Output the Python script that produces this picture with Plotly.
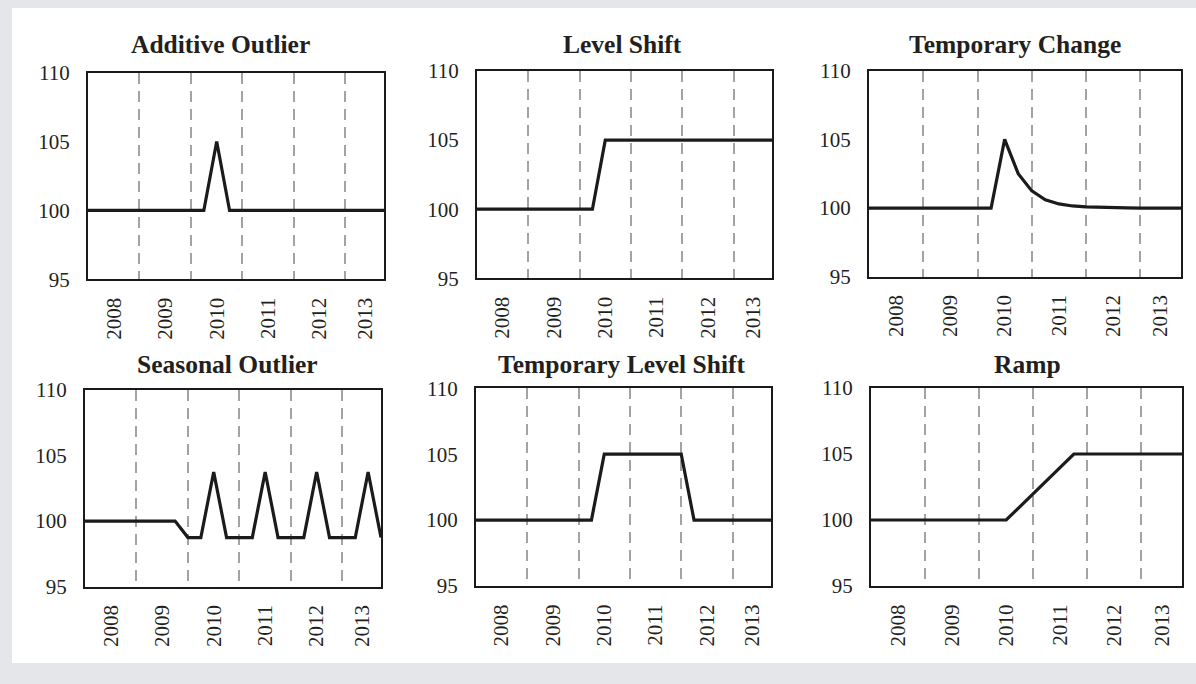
import plotly.graph_objects as go

# ---------------- data ----------------
quarters = ["2008Q1", "2008Q2", "2008Q3", "2008Q4",
            "2009Q1", "2009Q2", "2009Q3", "2009Q4",
            "2010Q1", "2010Q2", "2010Q3", "2010Q4",
            "2011Q1", "2011Q2", "2011Q3", "2011Q4",
            "2012Q1", "2012Q2", "2012Q3", "2012Q4",
            "2013Q1", "2013Q2", "2013Q3", "2013Q4"]
years = ["2008", "2009", "2010", "2011", "2012", "2013"]

titles = ["Additive Outlier", "Level Shift", "Temporary Change",
          "Seasonal Outlier", "Temporary Level Shift", "Ramp"]

additive_outlier = [100, 100, 100, 100, 100, 100, 100, 100, 100, 100, 105, 100,
                    100, 100, 100, 100, 100, 100, 100, 100, 100, 100, 100, 100]
level_shift = [100, 100, 100, 100, 100, 100, 100, 100, 100, 100, 105, 105,
               105, 105, 105, 105, 105, 105, 105, 105, 105, 105, 105, 105]
temporary_change = [100, 100, 100, 100, 100, 100, 100, 100, 100, 100, 105, 102.5,
                    101.25, 100.6, 100.3, 100.15, 100.08, 100.04, 100.02, 100.01, 100.0, 100.0, 100.0, 100.0]
seasonal_outlier = [100, 100, 100, 100, 100, 100, 100, 100, 98.75, 98.75, 103.75, 98.75,
                    98.75, 98.75, 103.75, 98.75, 98.75, 98.75, 103.75, 98.75, 98.75, 98.75, 103.75, 98.75]
temporary_level_shift = [100, 100, 100, 100, 100, 100, 100, 100, 100, 100, 105, 105,
                         105, 105, 105, 105, 105, 100, 100, 100, 100, 100, 100, 100]
ramp = [100, 100, 100, 100, 100, 100, 100, 100, 100, 100, 100, 101,
        102, 103, 104, 105, 105, 105, 105, 105, 105, 105, 105, 105]

series = [additive_outlier, level_shift, temporary_change,
          seasonal_outlier, temporary_level_shift, ramp]

y_ticks = [95, 100, 105, 110]

# ---------------- layout geometry (pixels) ----------------
W, H = 1196, 684
# (left, right, top, bottom) of each plot area in pixels
boxes = [(88, 384, 72.7, 279.3), (477, 772, 71, 278.3), (869, 1181, 70.7, 276.7),
         (85, 381, 390, 586.7), (476, 771, 388.3, 586), (871, 1182, 388, 586)]
title_centers = [(221, 45), (622, 44), (1015, 44), (227.5, 365), (621.5, 365), (1027, 365)]

FONT = "Liberation Serif"
TXT = "#231f20"

idx = list(range(len(quarters)))
n = len(quarters)
year_start = [quarters.index(y + "Q1") for y in years]
year_centers = [(s + min(s + 4, n - 1)) / 2 for s in year_start]
year_bounds = year_start[1:]

fig = go.Figure()
layout = dict(
    width=W, height=H, margin=dict(l=0, r=0, t=0, b=0, pad=0), autosize=False,
    paper_bgcolor="#e4e6e9", plot_bgcolor="white", showlegend=False,
    font=dict(family=FONT, color=TXT, size=21),
    shapes=[dict(type="rect", xref="paper", yref="paper",
                 x0=12 / W, x1=1.0, y0=1 - 663 / H, y1=1 - 8 / H,
                 fillcolor="white", line=dict(width=0), layer="below")],
    annotations=[],
)

for i, (vals, ttl, box, tc) in enumerate(zip(series, titles, boxes, title_centers)):
    k = "" if i == 0 else str(i + 1)
    fig.add_trace(go.Scatter(x=idx, y=vals, mode="lines",
                             line=dict(color="#1c1a1a", width=3.2),
                             xaxis="x" + k, yaxis="y" + k, hoverinfo="skip"))
    l, r, t, b = box
    layout["xaxis" + k] = dict(
        domain=[l / W, r / W], anchor="y" + k, range=[0, n - 1], automargin=False,
        tickmode="array", tickvals=year_centers, ticktext=years, tickangle=-90,
        ticks="outside", ticklen=8, tickcolor="rgba(0,0,0,0)",
        tickfont=dict(family=FONT, size=21, color=TXT),
        showgrid=False, zeroline=False,
        showline=True, linecolor="#1a1a1a", linewidth=2, mirror=True,
        minor=dict(tickmode="array", tickvals=year_bounds, showgrid=True,
                   gridcolor="#a3a3a3", gridwidth=1.6, griddash="11px,7px", ticks=""),
    )
    layout["yaxis" + k] = dict(
        domain=[1 - b / H, 1 - t / H], anchor="x" + k, range=[95, 110], automargin=False,
        tickmode="array", tickvals=y_ticks,
        ticks="outside", ticklen=12, tickcolor="rgba(0,0,0,0)",
        tickfont=dict(family=FONT, size=21, color=TXT),
        showgrid=False, zeroline=False,
        showline=True, linecolor="#1a1a1a", linewidth=2, mirror=True,
    )
    layout["annotations"].append(dict(
        text="<b>" + ttl + "</b>", xref="paper", yref="paper",
        x=tc[0] / W, y=1 - tc[1] / H, xanchor="center", yanchor="middle",
        showarrow=False, font=dict(family=FONT, size=25.5, color=TXT)))

fig.update_layout(**layout)
fig.write_html("out.html", config={"displayModeBar": False},
               post_script="document.body.style.margin='0';document.body.style.overflow='hidden';")
